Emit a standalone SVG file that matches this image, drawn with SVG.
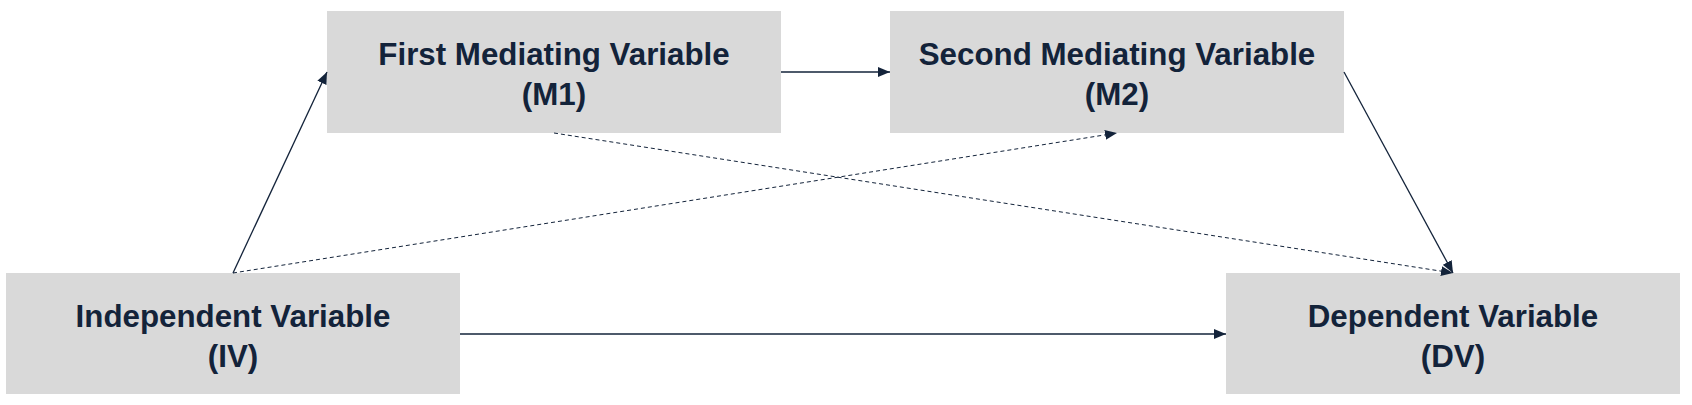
<svg xmlns="http://www.w3.org/2000/svg" width="1692" height="405" viewBox="0 0 1692 405">
  <style>
    .box { fill: #d9d9d9; }
    .lbl { font-family: "Liberation Sans", Arial, sans-serif; font-weight: bold; font-size: 31.3px; fill: #13233a; text-anchor: middle; }
    .edge { stroke: #13233a; stroke-width: 1.3; fill: none; }
    .dash { stroke: #13233a; stroke-width: 1; stroke-dasharray: 4 3; fill: none; }
  </style>
  <defs>
    <marker id="arrow" markerUnits="userSpaceOnUse" markerWidth="12" markerHeight="10" refX="12" refY="5" orient="auto">
      <path d="M0,0 L12,5 L0,10 z" fill="#13233a"/>
    </marker>
  </defs>
  <rect width="1692" height="405" fill="#ffffff"/>
  <g id="node-m1">
    <rect class="box" x="327" y="11" width="454" height="122"/>
    <text class="lbl" x="554" y="65">First Mediating Variable</text>
    <text class="lbl" x="554" y="105">(M1)</text>
  </g>
  <g id="node-m2">
    <rect class="box" x="890" y="11" width="454" height="122"/>
    <text class="lbl" x="1117" y="65">Second Mediating Variable</text>
    <text class="lbl" x="1117" y="105">(M2)</text>
  </g>
  <g id="node-iv">
    <rect class="box" x="6" y="273" width="454" height="121"/>
    <text class="lbl" x="233" y="327">Independent Variable</text>
    <text class="lbl" x="233" y="367">(IV)</text>
  </g>
  <g id="node-dv">
    <rect class="box" x="1226" y="273" width="454" height="121"/>
    <text class="lbl" x="1453" y="327">Dependent Variable</text>
    <text class="lbl" x="1453" y="367">(DV)</text>
  </g>
  <g id="connectors">
    <line class="edge" x1="233" y1="273" x2="327" y2="72" marker-end="url(#arrow)"/>
    <line class="edge" x1="781" y1="72" x2="890" y2="72" marker-end="url(#arrow)"/>
    <line class="edge" x1="1344" y1="72" x2="1453" y2="273" marker-end="url(#arrow)"/>
    <line class="edge" x1="460" y1="334" x2="1226" y2="334" marker-end="url(#arrow)"/>
    <line class="dash" x1="233" y1="273" x2="1117" y2="133" marker-end="url(#arrow)"/>
    <line class="dash" x1="554" y1="133" x2="1453" y2="273" marker-end="url(#arrow)"/>
  </g>
</svg>
